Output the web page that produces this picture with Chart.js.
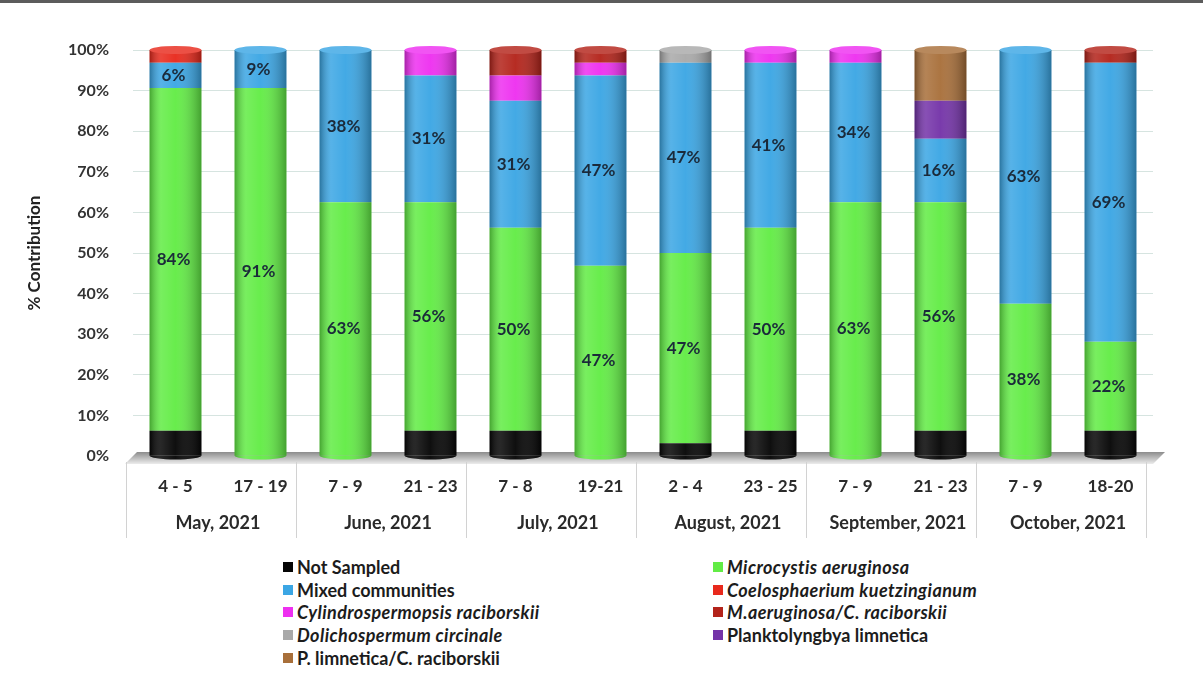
<!DOCTYPE html>
<html>
<head>
<meta charset="utf-8">
<title>% Contribution</title>
<script src="https://cdn.jsdelivr.net/npm/chart.js@4.4.0/dist/chart.umd.min.js"></script>
<style>
  html, body { margin: 0; padding: 0; background: #fff; }
  body { width: 1203px; height: 691px; overflow: hidden; position: relative; font-family: Lato, "Open Sans", sans-serif; }
  .topline { position: absolute; left: 0; top: 0; width: 1203px; height: 3px; background: #5c5c5c; }
  #wrap { position: absolute; left: 0; top: 0; width: 1203px; height: 540px; }
  #legend {
    position: absolute; left: 283px; top: 556px;
    display: grid; grid-template-columns: 430px 330px; grid-auto-rows: 22.6px;
    font-size: 18px; font-weight: bold; color: #1c1c1c;
  }
  #legend .item { display: flex; align-items: center; white-space: nowrap; }
  #legend .box { width: 10px; height: 10px; margin-right: 4px; flex: none; }
  #legend .it { font-style: italic; letter-spacing: 0.4px; }
</style>
</head>
<body>
<div class="topline"></div>
<div id="wrap"><canvas id="chart"></canvas></div>
<div id="legend"></div>
<script>
// sampling windows and months
const categories = ['4 - 5', '17 - 19', '7 - 9', '21 - 23', '7 - 8', '19-21', '2 - 4', '23 - 25', '7 - 9', '21 - 23', '7 - 9', '18-20']
const months = ['May, 2021', 'June, 2021', 'July, 2021', 'August, 2021', 'September, 2021', 'October, 2021']
const yTicks = [0, 10, 20, 30, 40, 50, 60, 70, 80, 90, 100]

// % contribution per bloom type (bottom to top of each stack)
const notSampled     = [6.25, 0, 0, 6.25, 6.25, 0, 3.125, 6.25, 0, 6.25, 0, 6.25]
const microcystis    = [84.375, 90.625, 62.5, 56.25, 50, 46.875, 46.875, 50, 62.5, 56.25, 37.5, 21.875]
const mixed          = [6.25, 9.375, 37.5, 31.25, 31.25, 46.875, 46.875, 40.625, 34.375, 15.625, 62.5, 68.75]
const coelosphaerium = [3.125, 0, 0, 0, 0, 0, 0, 0, 0, 0, 0, 0]
const cylindro       = [0, 0, 0, 6.25, 6.25, 3.125, 0, 3.125, 3.125, 0, 0, 0]
const maerCrac       = [0, 0, 0, 0, 6.25, 3.125, 0, 0, 0, 0, 0, 3.125]
const dolicho        = [0, 0, 0, 0, 0, 0, 3.125, 0, 0, 0, 0, 0]
const plankto        = [0, 0, 0, 0, 0, 0, 0, 0, 0, 9.375, 0, 0]
const plimCrac       = [0, 0, 0, 0, 0, 0, 0, 0, 0, 12.5, 0, 0]

const series = [
    { label: 'Not Sampled', data: notSampled, color: '#050505', italic: false },
    { label: 'Microcystis aeruginosa', data: microcystis, color: '#62ec45', italic: true, showValue: true },
    { label: 'Mixed communities', data: mixed, color: '#3ba6e4', italic: false, showValue: true },
    { label: 'Coelosphaerium kuetzingianum', data: coelosphaerium, color: '#e8291c', italic: true },
    { label: 'Cylindrospermopsis raciborskii', data: cylindro, color: '#ee2ff0', italic: true },
    { label: 'M.aeruginosa/C. raciborskii', data: maerCrac, color: '#b3231a', italic: true },
    { label: 'Dolichospermum circinale', data: dolicho, color: '#a9a9a9', italic: true },
    { label: 'Planktolyngbya limnetica', data: plankto, color: '#7433a8', italic: false },
    { label: 'P. limnetica/C. raciborskii', data: plimCrac, color: '#a86f3a', italic: false }
]

function lighten(hex, amt) {
    const n = parseInt(hex.slice(1), 16)
    const r = (n >> 16) & 255, g = (n >> 8) & 255, b = n & 255
    const f = c => Math.round(c + (255 - c) * amt)
    return `rgb(${f(r)}, ${f(g)}, ${f(b)})`
}

// floor, cylinder shading and value labels
const cylinderPlugin = {
    id: 'cylinders',
    beforeDatasetsDraw(chart) {
        const { ctx, chartArea: a } = chart
        ctx.save()
        const g = ctx.createLinearGradient(0, a.bottom - 4, 0, a.bottom + 8)
        g.addColorStop(0, '#8c8c8c')
        g.addColorStop(1, '#ececec')
        ctx.fillStyle = g
        ctx.beginPath()
        ctx.moveTo(a.left - 8, a.bottom + 8)
        ctx.lineTo(a.left + 4, a.bottom - 4)
        ctx.lineTo(a.right + 12, a.bottom - 4)
        ctx.lineTo(a.right, a.bottom + 8)
        ctx.closePath()
        ctx.fill()
        ctx.restore()
    },
    afterDatasetsDraw(chart) {
        const ctx = chart.ctx
        ctx.save()
        for (let j = 0; j < chart.data.labels.length; j++) {
            let top = null, base = null, x = 0, w = 0, topColor = null, bottomColor = null
            chart.data.datasets.forEach((ds, i) => {
                if (!ds.data[j]) return
                const el = chart.getDatasetMeta(i).data[j]
                if (bottomColor === null) { bottomColor = ds.backgroundColor; base = el.base }
                top = el.y; topColor = ds.backgroundColor; x = el.x; w = el.width
            })
            if (top === null) continue
            const shade = ctx.createLinearGradient(x - w / 2, 0, x + w / 2, 0)
            shade.addColorStop(0, 'rgba(0,0,0,0.30)')
            shade.addColorStop(0.22, 'rgba(255,255,255,0.14)')
            shade.addColorStop(0.5, 'rgba(255,255,255,0.04)')
            shade.addColorStop(1, 'rgba(0,0,0,0.32)')
            // rounded bottom
            ctx.beginPath()
            ctx.ellipse(x, base, w / 2, 4, 0, 0, Math.PI)
            ctx.fillStyle = bottomColor
            ctx.fill()
            ctx.fillStyle = shade
            ctx.fill()
            ctx.fillRect(x - w / 2, top, w, base - top)
            // top cap
            ctx.beginPath()
            ctx.ellipse(x, top, w / 2, 4, 0, 0, Math.PI * 2)
            ctx.fillStyle = lighten(topColor, 0.18)
            ctx.fill()
        }
        // value labels
        ctx.font = 'bold 17px Lato, "Open Sans", sans-serif'
        ctx.fillStyle = '#1b2a3a'
        ctx.textAlign = 'center'
        ctx.textBaseline = 'middle'
        chart.data.datasets.forEach((ds, i) => {
            if (!ds.showValue) return
            chart.getDatasetMeta(i).data.forEach((el, j) => {
                const v = ds.data[j]
                if (!v) return
                ctx.fillText(Math.round(v) + '%', el.x - 2, (el.y + el.base) / 2)
            })
        })
        ctx.restore()
    },
    afterDraw(chart) {
        // month table separators
        const { ctx } = chart
        const xs = chart.scales.x, x2 = chart.scales.x2
        const half = (xs.getPixelForValue(1) - xs.getPixelForValue(0)) / 2
        ctx.save()
        ctx.strokeStyle = '#d2d2d2'
        ctx.lineWidth = 1
        for (let k = 0; k <= months.length; k++) {
            const idx = Math.min(k * 2, categories.length - 1)
            const bx = Math.round(k * 2 < categories.length ? xs.getPixelForValue(idx) - half : xs.getPixelForValue(idx) + half) - 6.5
            ctx.beginPath()
            ctx.moveTo(bx, xs.top + 6)
            ctx.lineTo(bx, x2.bottom - 2)
            ctx.stroke()
        }
        ctx.restore()
    }
}

const fontFamily = 'Lato, "Open Sans", sans-serif'

new Chart(document.getElementById('chart'), {
    type: 'bar',
    data: {
        labels: categories,
        datasets: series.map(s => ({
            label: s.label,
            data: s.data,
            backgroundColor: s.color,
            borderWidth: 0,
            showValue: !!s.showValue,
            barPercentage: 0.61,
            categoryPercentage: 1.0
        }))
    },
    options: {
        responsive: true,
        maintainAspectRatio: false,
        animation: false,
        layout: { padding: { top: 50, right: 50, left: 0, bottom: 0 } },
        plugins: {
            legend: { display: false },
            tooltip: { enabled: false }
        },
        scales: {
            x: {
                stacked: true,
                offset: true,
                weight: 0,
                grid: { display: false },
                border: { display: false },
                ticks: { color: '#2a2a2a', font: { family: fontFamily, size: 17, weight: 'bold' }, padding: 12, maxRotation: 0, autoSkip: false },
                afterFit: s => { s.height = 44 }
            },
            x2: {
                type: 'category',
                labels: months,
                position: 'bottom',
                offset: true,
                weight: 1,
                grid: { display: false },
                border: { display: false },
                ticks: { color: '#2a2a2a', font: { family: fontFamily, size: 18, weight: 'bold' }, padding: 4, maxRotation: 0, autoSkip: false },
                afterFit: s => { s.height = 40 }
            },
            y: {
                stacked: true,
                min: 0,
                max: 100,
                afterBuildTicks: s => { s.ticks = yTicks.map(v => ({ value: v })) },
                ticks: { color: '#333', font: { family: fontFamily, size: 16, weight: 'bold' }, padding: 24, callback: v => v + '%' },
                grid: { color: '#d6e4e0', drawTicks: false },
                border: { display: false },
                title: { display: true, text: '% Contribution', color: '#222', font: { family: fontFamily, size: 17, weight: 'bold' }, padding: { top: 24, bottom: 0 } },
                afterFit: s => { s.width = 133 }
            }
        }
    },
    plugins: [cylinderPlugin]
})

// legend, two columns
const legendEl = document.getElementById('legend')
series.forEach(s => {
    const item = document.createElement('div')
    item.className = 'item'
    item.innerHTML = `<span class="box" style="background:${s.color}"></span><span class="${s.italic ? 'it' : ''}">${s.label}</span>`
    legendEl.appendChild(item)
})
</script>
</body>
</html>
